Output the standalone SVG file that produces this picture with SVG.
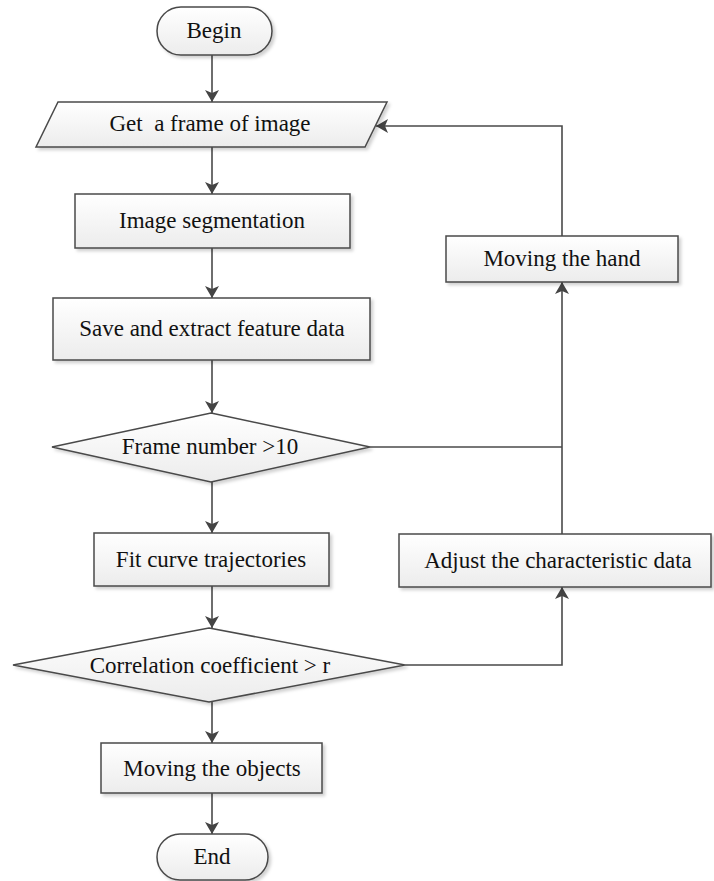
<svg xmlns="http://www.w3.org/2000/svg" width="714" height="881" viewBox="0 0 714 881">
<style>
.shape{stroke:#4a4a4a;stroke-width:1.5;fill:url(#g);filter:url(#sh)}
.lbl{font-family:'Liberation Serif','DejaVu Serif',serif;font-size:23px;fill:#111;text-anchor:middle}
.conn{stroke:#4a4a4a;stroke-width:1.6;fill:none}
</style>
<defs>
<linearGradient id="g" x1="0" y1="0" x2="0" y2="1">
<stop offset="0" stop-color="#ffffff"/>
<stop offset="1" stop-color="#ececec"/>
</linearGradient>
<filter id="sh" x="-10%" y="-20%" width="130%" height="150%">
<feDropShadow dx="2.5" dy="2.5" stdDeviation="1.5" flood-color="#000" flood-opacity="0.18"/>
</filter>
<marker id="arr" markerUnits="userSpaceOnUse" markerWidth="12" markerHeight="14" viewBox="0 0 12 14" refX="12" refY="7" orient="auto">
<path d="M0,0 L12,7 L0,14 L3,7 z" fill="#444"/>
</marker>
</defs>
<g id="connectors">
<line class="conn" x1="212" y1="55" x2="212" y2="102" marker-end="url(#arr)"/>
<line class="conn" x1="212" y1="147" x2="212" y2="194" marker-end="url(#arr)"/>
<line class="conn" x1="212" y1="248" x2="212" y2="298" marker-end="url(#arr)"/>
<line class="conn" x1="212" y1="360" x2="212" y2="413" marker-end="url(#arr)"/>
<line class="conn" x1="212" y1="482" x2="212" y2="533" marker-end="url(#arr)"/>
<line class="conn" x1="212" y1="586" x2="212" y2="628" marker-end="url(#arr)"/>
<line class="conn" x1="212" y1="702" x2="212" y2="743" marker-end="url(#arr)"/>
<line class="conn" x1="212" y1="793" x2="212" y2="834" marker-end="url(#arr)"/>
<polyline class="conn" points="405,665 562,665 562,587" marker-end="url(#arr)"/>
<line class="conn" x1="562" y1="534" x2="562" y2="282" marker-end="url(#arr)"/>
<line class="conn" x1="370" y1="447" x2="562" y2="447"/>
<polyline class="conn" points="562,236 562,126 376,126" marker-end="url(#arr)"/>
</g>
<g id="begin">
<rect class="shape" x="157" y="7" width="115" height="48" rx="24" ry="24"/>
<text class="lbl" font-family="Liberation Serif, serif" x="214" y="38">Begin</text>
</g>
<g id="get-frame">
<polygon class="shape" points="58,102 387,102 365,147 36,147"/>
<text class="lbl" font-family="Liberation Serif, serif" x="210" y="131" xml:space="preserve">Get  a frame of image</text>
</g>
<g id="image-segmentation">
<rect class="shape" x="75" y="194" width="275" height="54"/>
<text class="lbl" font-family="Liberation Serif, serif" x="212" y="228">Image segmentation</text>
</g>
<g id="save-extract">
<rect class="shape" x="53" y="298" width="317" height="62"/>
<text class="lbl" font-family="Liberation Serif, serif" x="212" y="336">Save and extract feature data</text>
</g>
<g id="frame-number">
<polygon class="shape" points="211,413 370,447 211,482 52,447"/>
<text class="lbl" font-family="Liberation Serif, serif" x="210" y="454">Frame number &gt;10</text>
</g>
<g id="fit-curve">
<rect class="shape" x="94" y="533" width="235" height="53"/>
<text class="lbl" font-family="Liberation Serif, serif" x="211" y="567">Fit curve trajectories</text>
</g>
<g id="correlation">
<polygon class="shape" points="209,628 405,665 209,702 13,665"/>
<text class="lbl" font-family="Liberation Serif, serif" x="210" y="673">Correlation coefficient &gt; r</text>
</g>
<g id="moving-objects">
<rect class="shape" x="101" y="743" width="221" height="50"/>
<text class="lbl" font-family="Liberation Serif, serif" x="212" y="776">Moving the objects</text>
</g>
<g id="end">
<rect class="shape" x="157" y="834" width="111" height="46" rx="23" ry="23"/>
<text class="lbl" font-family="Liberation Serif, serif" x="212" y="864">End</text>
</g>
<g id="moving-hand">
<rect class="shape" x="446" y="236" width="232" height="46"/>
<text class="lbl" font-family="Liberation Serif, serif" x="562" y="266">Moving the hand</text>
</g>
<g id="adjust">
<rect class="shape" x="399" y="534" width="312" height="53"/>
<text class="lbl" font-family="Liberation Serif, serif" x="558" y="568">Adjust the characteristic data</text>
</g>
</svg>
